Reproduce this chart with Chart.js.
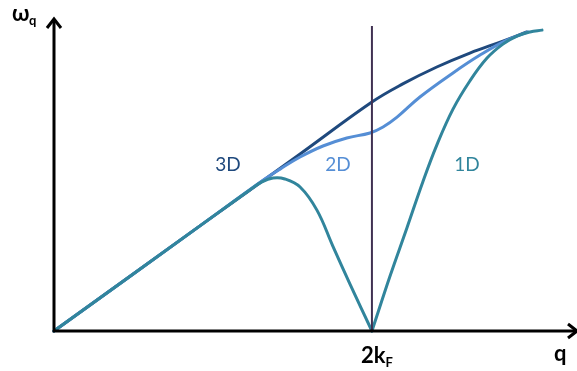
<!DOCTYPE html>
<html lang="en">
<head>
    <meta charset="UTF-8">
    <title>Phonon dispersion 1D / 2D / 3D</title>
    <script src="https://cdn.jsdelivr.net/npm/chart.js"></script>
    <style>
        body { margin: 0; background: #fff; }
    </style>
</head>
<body>
    <canvas id="myChart" width="577" height="371"></canvas>

    <script>
        // q in units of 2kF, omega in units of omega(2kF) of the 3D curve
        const q3D = [0, 0.459, 0.774, 1, 1.097, 1.204, 1.308, 1.412, 1.487];
        const w3D = [0, 0.459, 0.773, 1, 1.079, 1.153, 1.214, 1.266, 1.306];

        const q2D = [0, 0.459, 0.654, 0.711, 0.774, 0.846, 0.921, 0.994, 1.035, 1.079, 1.151, 1.255, 1.340, 1.418, 1.491];
        const w2D = [0, 0.459, 0.655, 0.707, 0.760, 0.808, 0.843, 0.865, 0.891, 0.934, 1.022, 1.127, 1.205, 1.266, 1.306];

        const q1Dlow = [0, 0.459, 0.616, 0.654, 0.689, 0.726, 0.774, 0.827, 0.877, 0.931, 1];
        const w1Dlow = [0, 0.459, 0.616, 0.651, 0.668, 0.664, 0.629, 0.528, 0.371, 0.205, 0];

        const q1Dhigh = [1, 1.057, 1.110, 1.160, 1.204, 1.255, 1.308, 1.362, 1.412, 1.456, 1.497, 1.535];
        const w1Dhigh = [0, 0.240, 0.450, 0.651, 0.812, 0.969, 1.092, 1.192, 1.253, 1.288, 1.306, 1.314];

        const q2kF = [1, 1];
        const w2kF = [0, 1.332];

        const curveLabels = ['3D', '2D', '1D'];
        const labelQ = [0.547, 0.893, 1.299];
        const labelW = [0.725, 0.725, 0.725];

        const toPoints = (xs, ys) => xs.map((x, i) => ({ x: x, y: ys[i] }));

        const lineDataset = (xs, ys, color) => ({
            data: toPoints(xs, ys),
            borderColor: color,
            borderWidth: 3,
            pointRadius: 0,
            showLine: true,
            fill: false,
            tension: 0.4,
            borderCapStyle: 'round'
        });

        const colors = { d3: '#1F497D', d2: '#558ED5', d1: '#31859C' };

        const axesPlugin = {
            id: 'axesPlugin',
            afterDraw(chart) {
                const ctx = chart.ctx;
                const xs = chart.scales.x, ys = chart.scales.y;
                const x0 = xs.getPixelForValue(0), y0 = ys.getPixelForValue(0);
                const top = chart.chartArea.top, right = chart.chartArea.right;

                ctx.save();
                ctx.strokeStyle = '#000';
                ctx.lineWidth = 3;
                ctx.lineCap = 'butt';
                ctx.lineJoin = 'miter';
                ctx.beginPath();
                ctx.moveTo(x0, y0 + 1.5);
                ctx.lineTo(x0, top + 1);
                ctx.moveTo(x0 - 1.5, y0);
                ctx.lineTo(right - 1, y0);
                ctx.stroke();
                // arrow heads
                ctx.beginPath();
                ctx.moveTo(x0 - 7, top + 10);
                ctx.lineTo(x0, top + 1);
                ctx.lineTo(x0 + 7, top + 10);
                ctx.moveTo(right - 9, y0 - 7);
                ctx.lineTo(right, y0);
                ctx.lineTo(right - 9, y0 + 7);
                ctx.stroke();

                // axis labels
                ctx.fillStyle = '#000';
                ctx.textBaseline = 'alphabetic';
                ctx.textAlign = 'left';
                ctx.font = 'bold 22px Lato';
                ctx.fillText('ω', 12, 21);
                ctx.font = 'bold 13px Lato';
                ctx.fillText('q', 29, 25);

                ctx.font = 'bold 22px Lato';
                ctx.fillText('q', 554, 361);

                const kx = xs.getPixelForValue(1);
                ctx.fillText('2k', kx - 11, 363);
                const w2k = ctx.measureText('2k').width;
                ctx.font = 'bold 13px Lato';
                ctx.fillText('F', kx - 11 + w2k, 367);

                // curve labels
                ctx.font = '19px Lato';
                ctx.textAlign = 'center';
                ctx.textBaseline = 'middle';
                const labelColors = [colors.d3, colors.d2, colors.d1];
                curveLabels.forEach((t, i) => {
                    ctx.fillStyle = labelColors[i];
                    ctx.fillText(t, xs.getPixelForValue(labelQ[i]), ys.getPixelForValue(labelW[i]));
                });
                ctx.restore();
            }
        };

        const ctx = document.getElementById('myChart').getContext('2d');
        const myChart = new Chart(ctx, {
            type: 'scatter',
            data: {
                datasets: [
                    Object.assign(lineDataset(q2kF, w2kF, '#403152'), { borderWidth: 2, tension: 0, borderCapStyle: 'butt' }),
                    lineDataset(q1Dlow, w1Dlow, colors.d1),
                    lineDataset(q1Dhigh, w1Dhigh, colors.d1),
                    lineDataset(q2D, w2D, colors.d2),
                    lineDataset(q3D, w3D, colors.d3)
                ]
            },
            options: {
                responsive: false,
                animation: false,
                devicePixelRatio: 1,
                layout: { padding: { left: 54, right: 0, top: 18, bottom: 40 } },
                plugins: {
                    legend: { display: false },
                    tooltip: { enabled: false }
                },
                scales: {
                    x: { type: 'linear', min: 0, max: 1.645, display: false },
                    y: { type: 'linear', min: 0, max: 1.367, display: false }
                },
                clip: false
            },
            plugins: [axesPlugin]
        });
    </script>
</body>
</html>
